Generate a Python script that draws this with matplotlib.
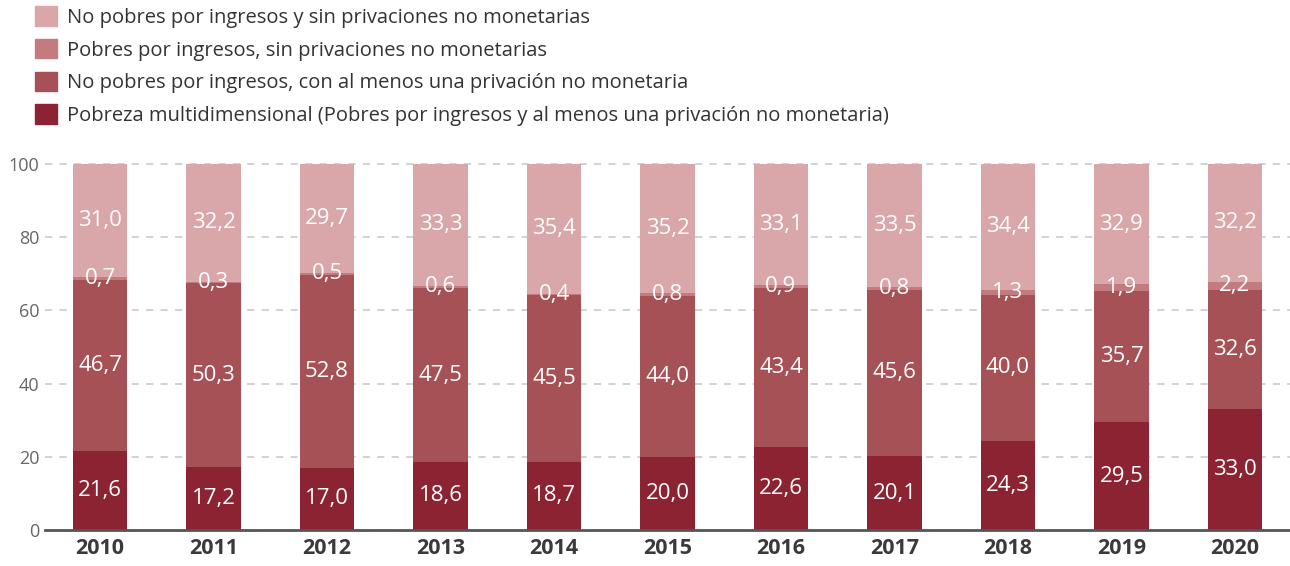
import matplotlib.pyplot as plt
from matplotlib.patches import Patch

years = ["2010", "2011", "2012", "2013", "2014", "2015", "2016", "2017", "2018", "2019", "2020"]
pobreza_multi = [21.6, 17.2, 17.0, 18.6, 18.7, 20.0, 22.6, 20.1, 24.3, 29.5, 33.0]
no_pobres_con_priv = [46.7, 50.3, 52.8, 47.5, 45.5, 44.0, 43.4, 45.6, 40.0, 35.7, 32.6]
pobres_sin_priv = [0.7, 0.3, 0.5, 0.6, 0.4, 0.8, 0.9, 0.8, 1.3, 1.9, 2.2]
no_pobres_sin_priv = [31.0, 32.2, 29.7, 33.3, 35.4, 35.2, 33.1, 33.5, 34.4, 32.9, 32.2]

series = [pobreza_multi, no_pobres_con_priv, pobres_sin_priv, no_pobres_sin_priv]
labels = [
    "Pobreza multidimensional (Pobres por ingresos y al menos una privación no monetaria)",
    "No pobres por ingresos, con al menos una privación no monetaria",
    "Pobres por ingresos, sin privaciones no monetarias",
    "No pobres por ingresos y sin privaciones no monetarias",
]
colors = ["#8C2333", "#A65156", "#C47B7D", "#D9A6A9"]

plt.rcParams["font.family"] = ["Open Sans", "DejaVu Sans"]

fig = plt.figure(figsize=(12.9, 5.66), dpi=100)
ax = fig.add_axes([0.0349, 0.0636, 0.9651, 0.6466])

x = list(range(len(years)))
bottom = [0.0] * len(years)
for vals, col in zip(series, colors):
    ax.bar(x, vals, bottom=bottom, width=0.48, color=col, zorder=2)
    for i, v in enumerate(vals):
        ax.text(i, bottom[i] + v / 2, f"{v:.1f}".replace(".", ","),
                ha="center", va="center", color="white", fontsize=16, zorder=3)
    bottom = [b + v for b, v in zip(bottom, vals)]

ax.set_xlim(-0.485, 10.485)
ax.set_ylim(0, 100)
ax.set_yticks([0, 20, 40, 60, 80, 100])
ax.set_xticks(x)
ax.set_xticklabels(years, fontsize=15.5, fontweight="bold", color="#3a3a3a")
ax.tick_params(axis="y", length=0, labelsize=13, labelcolor="#666666", pad=4)
ax.tick_params(axis="x", length=0, pad=6)
for yv in [20, 40, 60, 80, 100]:
    ax.axhline(yv, color="#cfcfcf", lw=1.3, ls=(0, (4, 4)), zorder=1, clip_on=False)
for s in ["top", "right", "left"]:
    ax.spines[s].set_visible(False)
ax.spines["bottom"].set_color("#555555")
ax.spines["bottom"].set_linewidth(2)
ax.spines["bottom"].set_zorder(4)

handles = [Patch(color=c) for c in colors][::-1]
fig.legend(handles, labels[::-1], loc="upper left", bbox_to_anchor=(0.018, 1.01),
           frameon=False, fontsize=14.5, handlelength=1.1, handleheight=1.1,
           handletextpad=0.45, labelspacing=0.55, labelcolor="#333333",
           borderaxespad=0.2)

fig.savefig("out.png", dpi=100)
